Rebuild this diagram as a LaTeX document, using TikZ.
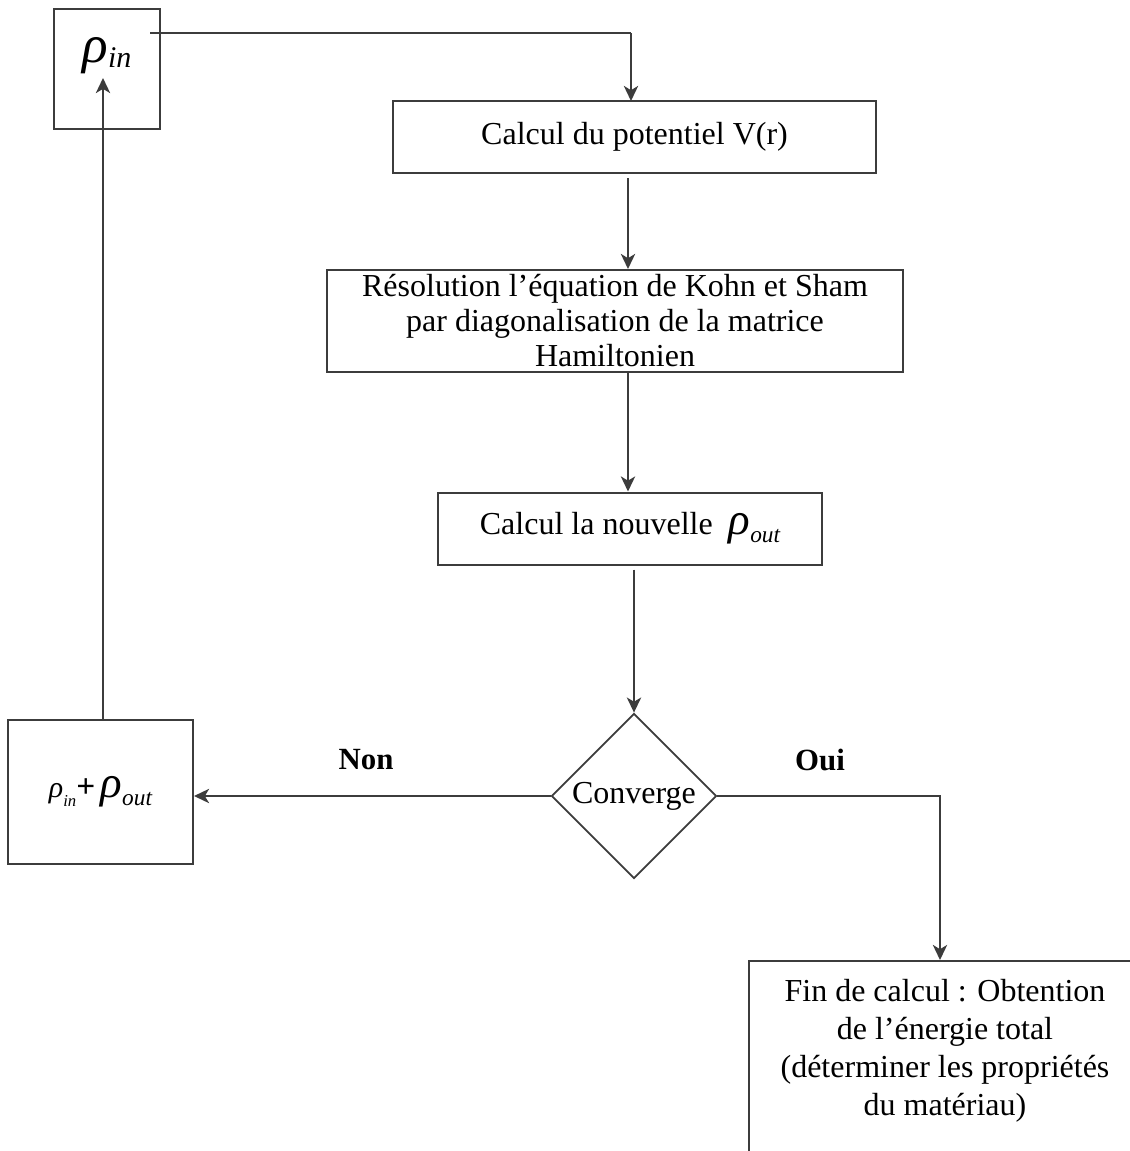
\documentclass[tikz,border=0pt]{standalone}
\usepackage{fontspec}
\setmainfont{Liberation Serif}
\usetikzlibrary{arrows.meta,shapes.geometric}
\definecolor{lncol}{HTML}{3C3C3C}
\newcommand{\myrhoin}[2]{{\fontsize{#1}{#1}\selectfont\itshape ρ}\raisebox{-0.28em}{\fontsize{#2}{#2}\selectfont\itshape in}}
\newcommand{\myrhoout}[2]{{\fontsize{#1}{#1}\selectfont\itshape ρ}\raisebox{-0.25em}{\fontsize{#2}{#2}\selectfont\itshape out}}
\begin{document}
\begin{tikzpicture}[x=0.6pt,y=-0.6pt,
  box/.style={draw=lncol,line width=1.2pt,rectangle,inner sep=0pt,align=center,
    font=\fontsize{19.2}{21}\selectfont},
  arr/.style={draw=lncol,line width=1.5pt,-{Stealth[length=9pt,width=8.5pt,inset=2.5pt]}},
  plain/.style={draw=lncol,line width=1.5pt},
  lbl/.style={font=\bfseries\fontsize{18.5}{18.5}\selectfont,inner sep=0pt}]
\clip (0,0) rectangle (1130,1151);
\fill[white] (0,0) rectangle (1130,1151);

% nodes
\node[box,minimum width=63.6pt,minimum height=72pt] (rhoin) at (107,69) {};
\node[inner sep=0pt] (rhoinlbl) at (107,56) {\myrhoin{32}{18}};
\node[box,minimum width=289.8pt,minimum height=43.2pt] (pot) at (634.5,137) {Calcul du potentiel V(r)};
\node[box,minimum width=345.6pt,minimum height=61.2pt] (ks) at (615,321)
  {Résolution l’équation de Kohn et Sham\\par diagonalisation de la matrice\\Hamiltonien};
\node[box,minimum width=230.4pt,minimum height=43.2pt] (nouv) at (630,528.5)
  {Calcul la nouvelle \ \myrhoout{27}{14}};
\node[draw=lncol,line width=1.1pt,diamond,aspect=1,inner sep=0pt,minimum size=99pt,
  font=\fontsize{19.2}{19.2}\selectfont] (conv) at (634,796) {Converge};
\node[box,minimum width=111pt,minimum height=86.4pt] (mix) at (100.5,792)
  {\myrhoin{18}{10}{\fontsize{20}{20}\selectfont\bfseries +}\,\myrhoout{27}{14}};
\node[box,minimum width=237.6pt,minimum height=156pt,anchor=north west] (fin) at (748,960) {};
\node[align=center,inner sep=0pt,font=\fontsize{19.2}{22.8}\selectfont] (fintext) at (945,1051)
  {Fin de calcul : Obtention\\de l’énergie total\\(déterminer les propriétés\\du matériau)};

\node[lbl] (non) at (366,760) {Non};
\node[lbl] (oui) at (820,760) {Oui};

% connectors
\coordinate (start) at (150,33);
\coordinate (potin) at (631,101);
\draw[plain] (start) -- (start -| potin);
\draw[arr] (start -| potin) -- (potin);
\draw[arr] (pot.south -| 628,0) ++(0,4) -- (ks.north -| 628,0);
\draw[arr] (ks.south -| 628,0) -- (nouv.north -| 628,0);
\draw[arr] (nouv.south -| conv.north) ++(0,4) -- (conv.north);
\draw[arr] (conv.west) -- (mix.east |- conv.west);
\coordinate (rhotip) at (103,78);
\draw[arr] (mix.north -| rhotip) -- (rhotip);
\coordinate (finin) at (940,960);
\draw[arr] (conv.east) -| (finin);
\end{tikzpicture}
\end{document}
